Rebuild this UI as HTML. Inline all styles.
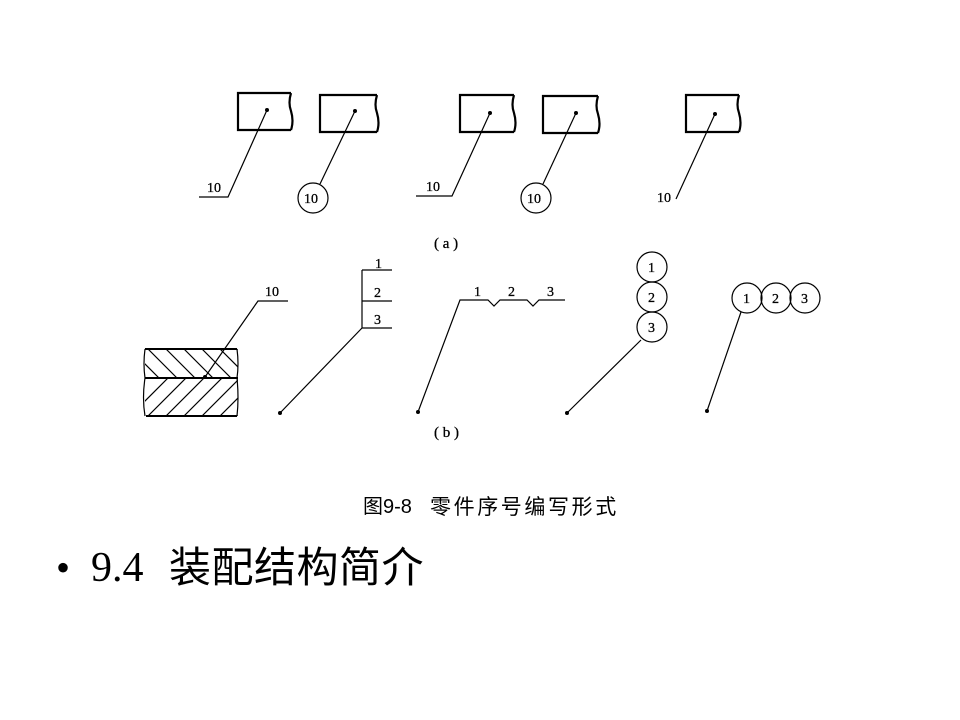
<!DOCTYPE html>
<html><head><meta charset="utf-8"><style>
html,body{margin:0;padding:0;background:#fff;width:960px;height:720px;overflow:hidden}
svg{position:absolute;left:0;top:0}
.t{font-family:"Liberation Serif",serif;font-size:14px;fill:#000;stroke:#000;stroke-width:0.3}
.a{position:absolute;white-space:nowrap;color:#000;line-height:1}
.s{font-family:"Liberation Sans","Noto Sans CJK SC",sans-serif}
.c{font-family:"Noto Sans CJK SC",sans-serif}
</style></head><body>
<svg width="960" height="720" viewBox="0 0 960 720">
<defs>
<clipPath id="top"><rect x="145" y="349" width="93" height="29"/></clipPath>
<clipPath id="bot"><rect x="145" y="378" width="93" height="38"/></clipPath>
</defs>
<g fill="none" stroke="#000">
<path d="M291 93 H238 V130 H291 M291 93 q-3 10 0 18 q3 10 0 19" stroke-width="2.2"/>
<path d="M377 95 H320 V132 H377 M377 95 q-3 10 0 18 q3 10 0 19" stroke-width="2.2"/>
<path d="M514 95 H460 V132 H514 M514 95 q-3 10 0 18 q3 10 0 19" stroke-width="2.2"/>
<path d="M598 96 H543 V133 H598 M598 96 q-3 10 0 18 q3 10 0 19" stroke-width="2.2"/>
<path d="M739 95 H686 V132 H739 M739 95 q-3 10 0 18 q3 10 0 19" stroke-width="2.2"/>
<g stroke-width="1.2">
<path d="M267 110 L228 197 H199"/>
<path d="M355 111 L320 184"/>
<circle cx="313" cy="198" r="15"/>
<path d="M490 113 L452 196 H416"/>
<path d="M576 113 L543 184"/>
<circle cx="536" cy="198" r="15"/>
<path d="M715 114 L676 199"/>
<path d="M205 377 L258 301 H288"/>
<path d="M362 270 V328 M362 270 H392 M362 301 H392 M362 328 H392 M362 328 L280 413"/>
<path d="M418 412 L460 300 H488 L494 306 L500 300 H527 L533 306 L539 300 H565"/>
<circle cx="652" cy="267" r="15"/><circle cx="652" cy="297" r="15"/><circle cx="652" cy="327" r="15"/>
<path d="M641 340 L567 413"/>
<circle cx="747" cy="298" r="15"/><circle cx="776" cy="298" r="15"/><circle cx="805" cy="298" r="15"/>
<path d="M741 312 L707 411"/>
</g>
<path d="M145 349 H237 M145 378 H238 M146 416 H237" stroke-width="2"/>
<path d="M145 349 q-2 15 0 29 q-3 20 0 38 M237 349 q2 15 0 29 q2 20 0 38" stroke-width="1.2"/>
<g clip-path="url(#top)" stroke-width="1.2">
<path d="M130 349 l29 29 M148 349 l29 29 M166 349 l29 29 M184 349 l29 29 M202 349 l29 29 M220 349 l29 29 M238 349 l29 29"/>
</g>
<g clip-path="url(#bot)" stroke-width="1.2">
<path d="M130 416 l38 -38 M148 416 l38 -38 M166 416 l38 -38 M184 416 l38 -38 M202 416 l38 -38 M220 416 l38 -38 M238 416 l38 -38"/>
</g>
</g>
<g fill="#000">
<circle cx="267" cy="110" r="2"/><circle cx="355" cy="111" r="2"/><circle cx="490" cy="113" r="2"/><circle cx="576" cy="113" r="2"/><circle cx="715" cy="114" r="2"/>
<circle cx="205" cy="377" r="2"/><circle cx="280" cy="413" r="2"/><circle cx="418" cy="412" r="2"/><circle cx="567" cy="413" r="2"/><circle cx="707" cy="411" r="2"/>
</g>
<g class="t">
<text x="207" y="192">10</text>
<text x="304" y="203">10</text>
<text x="426" y="191">10</text>
<text x="527" y="203">10</text>
<text x="657" y="202">10</text>
<text x="434" y="248" style="font-size:15px">( a )</text>
<text x="265" y="296">10</text>
<text x="375" y="268">1</text><text x="374" y="297">2</text><text x="374" y="324">3</text>
<text x="474" y="296">1</text><text x="508" y="296">2</text><text x="547" y="296">3</text>
<text x="648" y="272">1</text><text x="648" y="302">2</text><text x="648" y="332">3</text>
<text x="743" y="303">1</text><text x="772" y="303">2</text><text x="801" y="303">3</text>
<text x="434" y="437" style="font-size:15px">( b )</text>
</g>
</svg>
<div class="a s" style="left:363px;top:497px;font-size:20px">图9-8</div>
<div class="a c" style="left:430px;top:496px;font-size:21px;letter-spacing:2.6px">零件序号编写形式</div>
<div class="a" style="left:56px;top:548px;font-size:40px;font-family:'Liberation Serif',serif">•</div>
<div class="a" style="left:91px;top:547px;font-size:42px;font-family:'Liberation Serif',serif">9.4</div>
<div class="a c" style="left:169px;top:544px;font-size:42px;letter-spacing:0.5px">装配结构简介</div>
</body></html>
